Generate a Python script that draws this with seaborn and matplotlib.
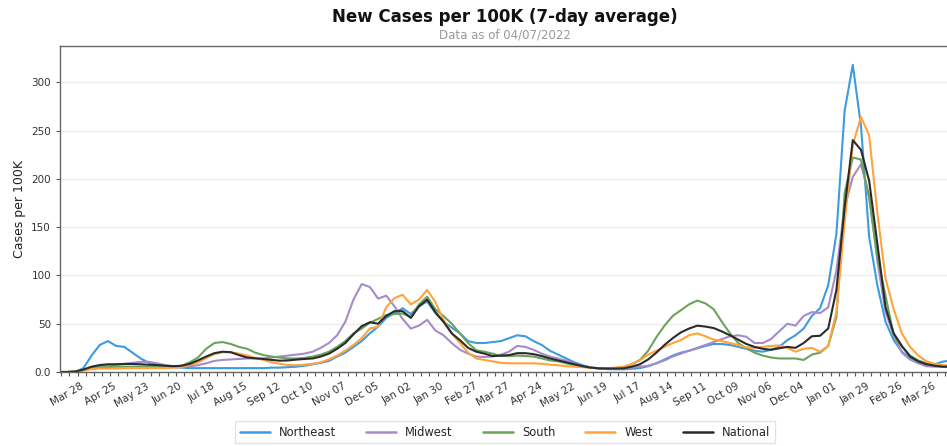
import numpy as np
import pandas as pd
import seaborn as sns
import matplotlib
matplotlib.use('Agg')
import matplotlib.pyplot as plt
import matplotlib.dates as mdates

# Weekly samples of the 7-day average
dates = pd.date_range('2020-03-05', periods=110, freq='7D')

northeast = [0, 0, 0, 4, 17, 28, 32, 27, 26, 20, 14, 9.5, 7.5, 6, 5, 4.5, 4, 4, 4, 4,
             4, 4, 4, 4, 4, 4, 4.5, 4.5, 5, 5.5, 6.5, 8, 9.5, 11.5, 16, 20, 26, 32, 40, 47,
             56, 61, 66, 60, 68, 73, 61, 52, 46, 40, 32, 30, 30, 31, 32, 35, 38, 37, 32, 28,
             22, 18, 14, 10, 7, 4.5, 3.5, 3, 2.8, 2.8, 3.3, 4, 6, 9, 13, 17, 20, 22, 24.5, 27,
             29, 29, 28, 26, 24, 22, 21, 23, 26, 33, 38, 45, 58, 66, 90, 143, 270, 318, 255, 140,
             90, 52, 33, 21, 14, 10, 8, 8, 10.7, 12]
midwest = [0, 0, 0.5, 2, 5, 6, 7, 7.5, 8.5, 9.5, 10.5, 10.5, 9, 7, 6, 5.5, 6, 7, 9, 11.5,
           12.5, 13, 13.5, 14, 14, 14, 15, 16, 17, 18, 19, 21, 25, 30, 38, 52, 75, 91, 88, 76,
           79, 68, 55, 45, 48, 54, 43, 38, 30, 23, 19, 16, 15.5, 16, 18, 21, 27, 26, 23, 19,
           16, 14, 11.5, 8.5, 6, 4.5, 4, 3.8, 3.8, 3.8, 4.5, 5.5, 6.5, 9, 12, 16, 19, 22, 25, 28,
           31, 34, 37, 38, 36.5, 30, 30, 34, 42, 50, 48, 58, 62, 61, 67, 105, 170, 202, 215, 183,
           115, 62, 38, 20, 13, 9, 6, 5.5, 5.5, 5.5]
south = [0, 0, 0.5, 2, 4, 5, 5, 5.5, 5.5, 5.5, 5.5, 5.5, 5.5, 5.5, 5.5, 6.5, 10, 15, 24, 30,
         31, 29, 26, 24, 20, 17.5, 16, 15, 14, 14, 14.5, 16, 18, 21, 26, 32, 40, 45, 51, 55,
         59, 60, 60.5, 57, 70, 78, 65, 58, 50, 40, 30, 22.5, 21, 19, 16.5, 16.5, 17, 16.5, 16, 14,
         12, 11, 9, 7, 5.5, 4.5, 3.8, 3.8, 4, 5, 8, 12.5, 22, 36, 48, 58, 64, 70, 74, 71,
         65, 52, 40, 30, 24.5, 20, 17, 15, 14, 14, 14, 12.5, 18, 20, 27, 57, 185, 222, 220, 180,
         120, 79, 38, 26, 17, 12, 9, 7, 6, 5.5]
west = [0, 0, 0.5, 1.5, 3, 3.5, 3.5, 3.5, 3.8, 4, 4, 4, 4, 4, 4.5, 5, 7.5, 10, 14.5, 18.5,
        20.5, 20.5, 19, 17, 14.5, 12.5, 10, 8.5, 7.2, 7, 7.5, 8.5, 10, 13, 17, 22, 28, 35, 45, 47,
        67, 76.5, 80, 70, 75, 85, 72.5, 54, 40, 30, 20, 14, 12.5, 11, 9.5, 9, 9, 9, 9, 8.5,
        7.5, 7, 6, 5.5, 5, 4.5, 4, 4, 4.5, 5.5, 8, 12, 18, 22, 26, 30, 33, 38, 40, 37,
        33.5, 32, 30, 28, 25.5, 25, 26, 27, 27.5, 25, 21, 24, 25, 21, 27, 62, 155, 235, 264, 245,
        165, 97, 65, 40, 26, 17, 11, 8.5, 7, 7]
national = [0, 0, 0.5, 2.5, 5.5, 7.2, 8, 8, 8.3, 8.3, 8, 7.5, 7.2, 6.5, 6, 6.5, 8.5, 12, 16, 19.5,
            21, 20.5, 17.5, 15, 14.2, 13.5, 12.5, 11.7, 12, 12.8, 13.5, 14, 16, 19, 24, 30, 39, 47.5, 51.5, 50,
            58, 63, 63, 56, 68, 75, 62, 52, 40, 33, 25, 21, 19, 16.5, 17, 17.5, 19.5, 19.5, 18.5, 16.5,
            14, 12, 10, 8, 6, 4.5, 3.8, 3.6, 3.6, 3.8, 5.5, 8, 13, 20, 28, 35, 41, 45, 48, 47,
            45.5, 42, 38, 33.5, 29, 26, 24, 23, 24.5, 26, 25, 30, 37, 37.5, 45, 85, 170, 240, 230, 198,
            133, 67, 40, 27, 16, 11, 8, 6.5, 5.5, 5.5]

regions = ['Northeast', 'Midwest', 'South', 'West', 'National']
colors = ['#3d9be0', '#a68bca', '#6aa35a', '#ffa33a', '#2b2b2b']
y_ticks = [0, 50, 100, 150, 200, 250, 300]
y_tick_labels = ['0.0', '50', '100', '150', '200', '250', '300']

df = pd.DataFrame({'date': dates, 'Northeast': northeast, 'Midwest': midwest,
                   'South': south, 'West': west, 'National': national})
long_df = df.melt(id_vars='date', var_name='region', value_name='cases')

sns.set_style('white')
plt.rcParams['font.family'] = ['DejaVu Sans']

fig = plt.figure(figsize=(9.47, 4.46), dpi=100)
ax = fig.add_axes([60 / 947, 1 - 372 / 446, 891 / 947, 326 / 446])

sns.lineplot(data=long_df, x='date', y='cases', hue='region', hue_order=regions,
             palette=dict(zip(regions, colors)), linewidth=1.5, ax=ax)

ax.set_xlim(mdates.date2num(pd.Timestamp('2020-03-06')), mdates.date2num(pd.Timestamp('2022-04-07')))
ax.set_ylim(0, 337.5)

major = pd.date_range('2020-03-28', '2022-03-26', freq='28D')
minor = pd.date_range('2020-03-07', '2022-04-07', freq='7D')
ax.set_xticks(mdates.date2num(major))
ax.set_xticks(mdates.date2num(minor), minor=True)
ax.set_xticklabels([d.strftime('%b %d') for d in major], rotation=30, ha='right',
                   fontsize=7.5, color='#333333')
ax.set_yticks(y_ticks)
ax.set_yticklabels(y_tick_labels, fontsize=7.5, color='#333333')
ax.tick_params(axis='both', which='both', direction='out', length=3, width=0.8,
               color='#555555', bottom=True, left=True)

ax.grid(axis='y', color='#eeeeee', linewidth=1)
ax.set_axisbelow(True)
for side in ['left', 'bottom', 'top']:
    ax.spines[side].set_color('#666666')
    ax.spines[side].set_linewidth(1.0)
ax.spines['right'].set_visible(False)

ax.set_xlabel('')
ax.set_ylabel('Cases per 100K', fontsize=9, color='#222222')

fig.text(505 / 947, 1 - 17 / 446, 'New Cases per 100K (7-day average)', ha='center',
         va='center', fontsize=12, fontweight='bold', color='#111111')
fig.text(505 / 947, 1 - 35 / 446, 'Data as of 04/07/2022', ha='center', va='center',
         fontsize=8.5, color='#999999')

sns.move_legend(ax, 'upper center', bbox_to_anchor=(505 / 947, 1 - 421 / 446),
                bbox_transform=fig.transFigure, ncol=5, title=None, frameon=True,
                fontsize=8.3, columnspacing=2.6, handlelength=2.6, borderaxespad=0)
leg = ax.get_legend()
leg.get_frame().set_edgecolor('#dddddd')
leg.get_frame().set_boxstyle('square', pad=0)
for line in leg.get_lines():
    line.set_linewidth(1.8)

fig.savefig('out.png', dpi=100)
